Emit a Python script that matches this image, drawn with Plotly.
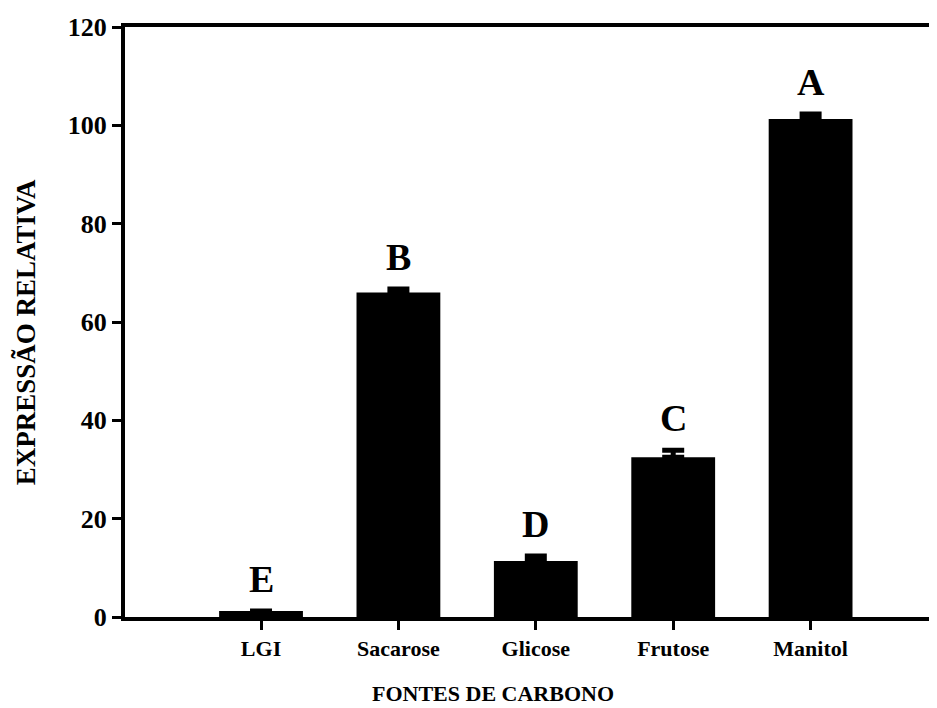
import plotly.graph_objects as go

categories = ["LGI", "Sacarose", "Glicose", "Frutose", "Manitol"]
values = [1.2, 66.0, 11.4, 32.5, 101.3]
errors = [0.0, 0.7, 1.0, 1.4, 1.0]
letters = ["E", "B", "D", "C", "A"]
y_ticks = [0, 20, 40, 60, 80, 100, 120]

FONT = "Liberation Serif"

fig = go.Figure()
fig.add_trace(go.Bar(
    x=categories, y=values,
    marker=dict(color="black", line=dict(width=0)),
    width=0.61,
    error_y=dict(type="data", array=errors, symmetric=False,
                 arrayminus=[0]*len(errors),
                 color="black", thickness=5, width=11),
    showlegend=False,
))

for c, v, e, l in zip(categories, values, errors, letters):
    fig.add_annotation(x=c, y=v + e, text="<b>" + l + "</b>", showarrow=False,
                       yanchor="bottom", yshift=9,
                       font=dict(family=FONT, size=38, color="black"))

fig.add_annotation(xref="paper", yref="paper", x=0.453, y=-0.129,
                   text="<b>FONTES DE CARBONO</b>", showarrow=False,
                   xanchor="center", yanchor="middle",
                   font=dict(family=FONT, size=22, color="black"))
fig.add_annotation(xref="paper", yref="paper", x=-0.1215, y=0.483,
                   text="<b>EXPRESSÃO RELATIVA</b>", showarrow=False,
                   textangle=-90, xanchor="center", yanchor="middle",
                   font=dict(family=FONT, size=27, color="black"))

fig.update_layout(
    width=929, height=700,
    margin=dict(l=117, r=0, t=19, b=91),
    paper_bgcolor="white", plot_bgcolor="white",
    font=dict(family=FONT, color="black"),
)
fig.update_xaxes(
    range=[-0.99, 4.92],
    showline=True, linewidth=4, linecolor="black", mirror=True,
    ticks="outside", ticklen=9, tickwidth=3, tickcolor="black",
    tickfont=dict(family=FONT, size=22, color="black"),
    tickprefix="<b>", ticksuffix="</b>",
    showgrid=False, zeroline=False, automargin=False,
)
fig.update_yaxes(
    range=[0, 120],
    tickvals=y_ticks,
    ticktext=["<b>%d</b>" % t for t in y_ticks],
    showline=True, linewidth=4, linecolor="black",
    ticks="outside", ticklen=9, tickwidth=3, tickcolor="black",
    tickfont=dict(family=FONT, size=26, color="black"),
    showgrid=False, zeroline=False, automargin=False,
)

fig.write_html("out.html")
